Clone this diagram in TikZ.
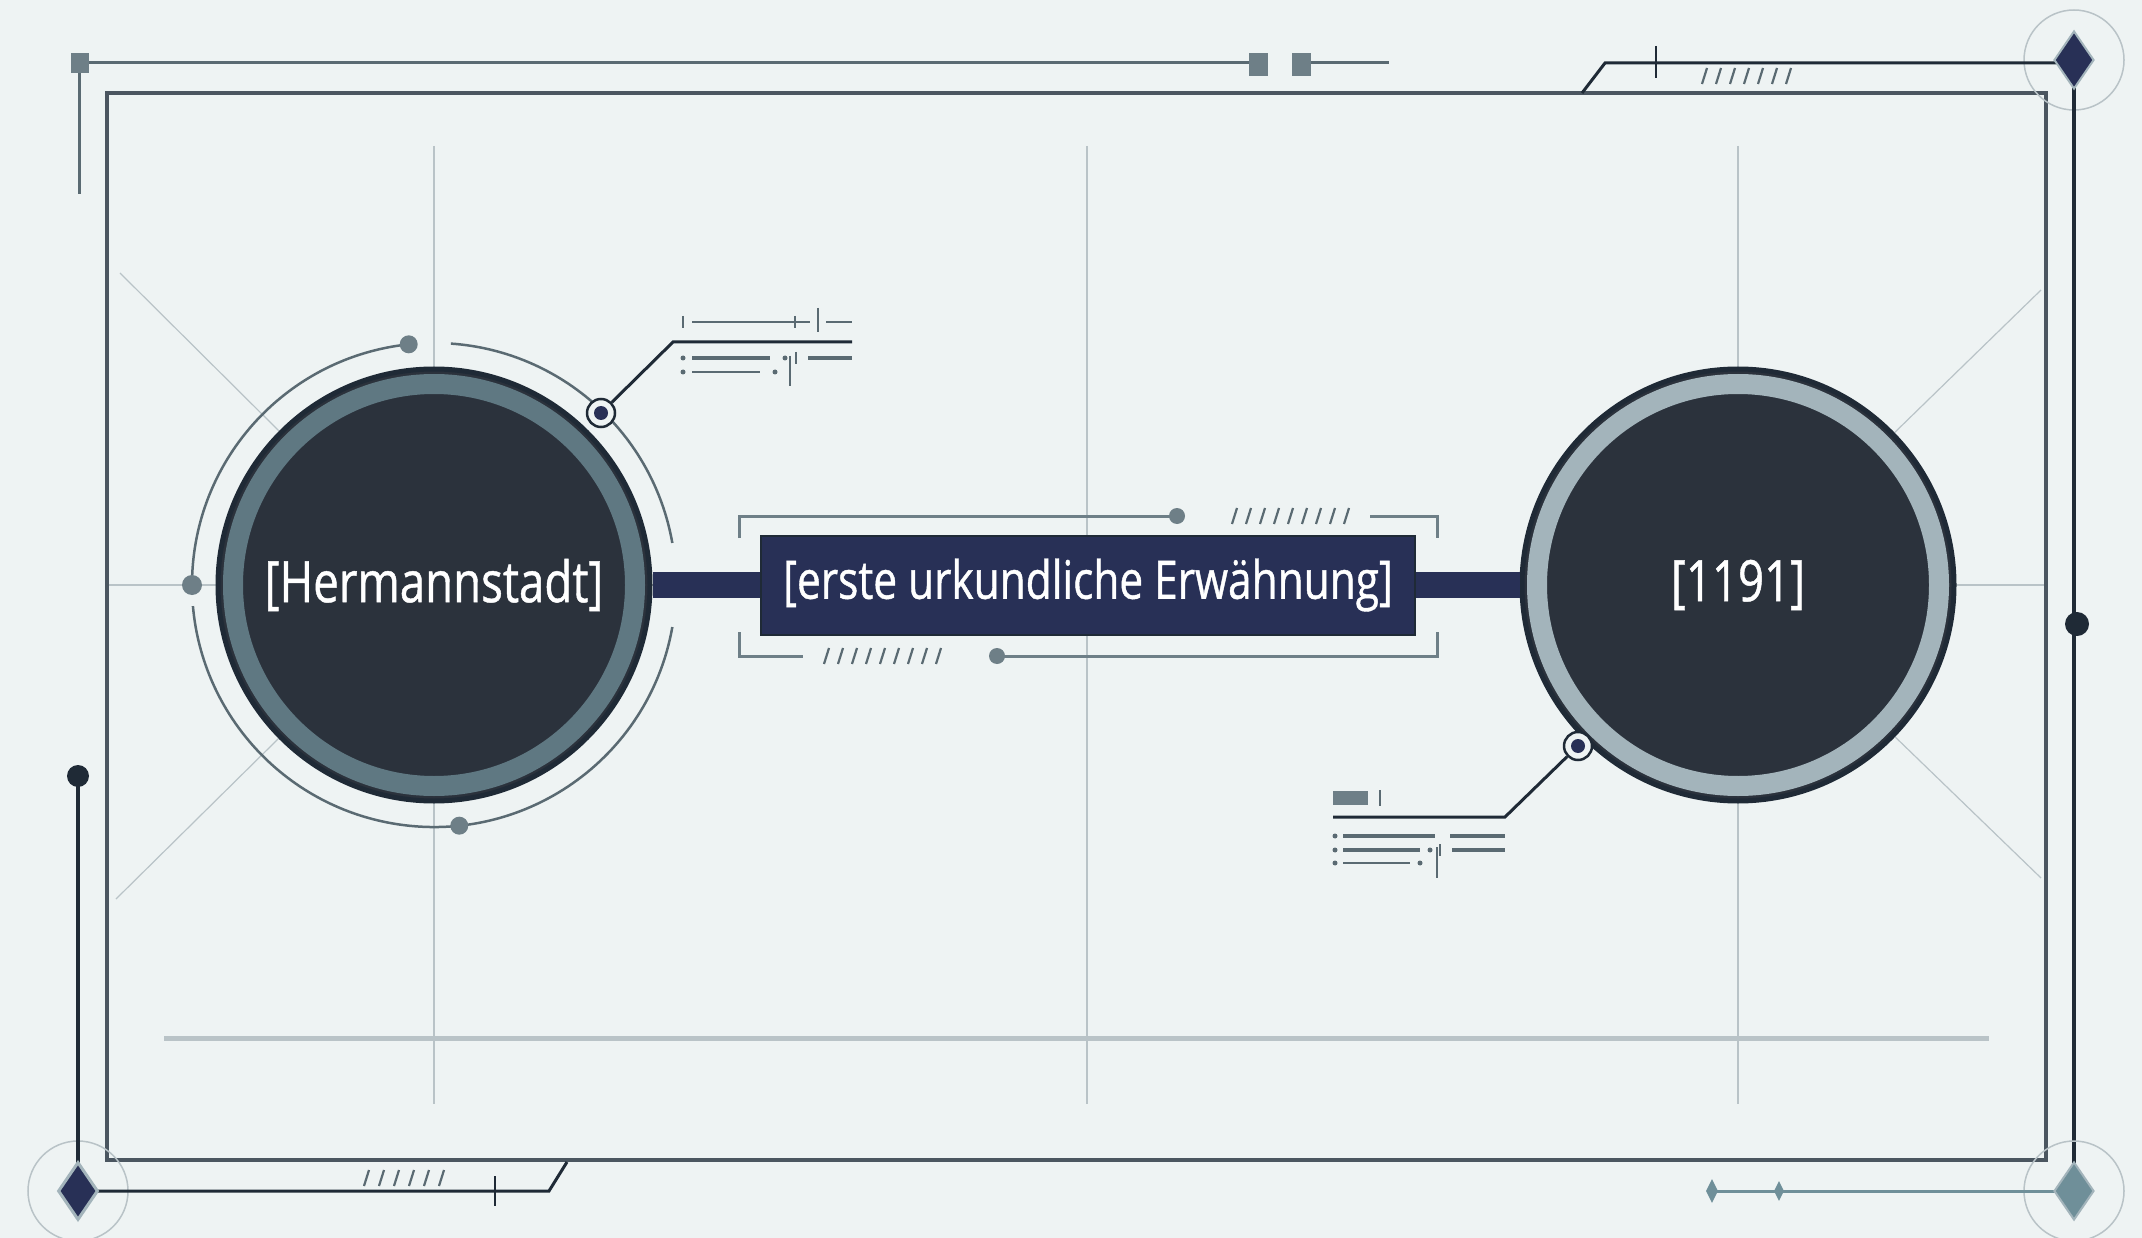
\documentclass[tikz,border=0pt]{standalone}
\usepackage{fontspec}
\setmainfont{Open Sans}[FakeStretch=0.80,FakeBold=0.8]
\usetikzlibrary{shapes.geometric}
\definecolor{bgc}{HTML}{EEF3F3}
\definecolor{framec}{HTML}{4B5660}
\definecolor{outc}{HTML}{5A6A72}
\definecolor{sqc}{HTML}{6E7F87}
\definecolor{navy}{HTML}{283056}
\definecolor{cfill}{HTML}{2B323C}
\definecolor{cedge}{HTML}{1F2A36}
\definecolor{ringL}{HTML}{5F7882}
\definecolor{ringR}{HTML}{A3B4BB}
\definecolor{gridc}{HTML}{B9C3C7}
\definecolor{tealc}{HTML}{6F8F99}
\tikzset{
  gridline/.style={draw=gridc, line width=1.5pt},
  framel/.style={draw=framec, line width=3.5pt},
  outl/.style={draw=outc, line width=3pt},
  bigcirc/.style={circle, minimum size=432pt, fill=cfill, draw=cedge, line width=5pt, text=white, font=\fontsize{57}{60}\selectfont, inner sep=0pt},
  boxnode/.style={rectangle, minimum width=654pt, minimum height=99pt, fill=navy, draw=cedge, line width=2pt, text=white, font=\fontsize{53}{56}\selectfont, inner sep=0pt},
  barline/.style={draw=navy, line width=26pt},
  bracket/.style={draw=sqc, line width=3pt},
  hatch/.style={draw=outc, line width=2.2pt},
  callline/.style={draw=cedge, line width=3pt},
  thinrow/.style={draw=outc, line width=2.5pt},
  ccirc/.style={circle, minimum size=28pt, fill=bgc, draw=cedge, line width=2.5pt, inner sep=0pt},
  dia/.style={diamond, minimum width=40pt, minimum height=58pt, inner sep=0pt},
  arcl/.style={draw=outc, line width=2.5pt},
}
\begin{document}
\begin{tikzpicture}[x=1pt,y=-1pt]
\useasboundingbox (0,0) rectangle (2142,1238);
\fill[bgc] (0,0) rectangle (2142,1238);
% grid
\draw[gridline] (434,146) -- (434,1104);
\draw[gridline] (1087,146) -- (1087,1104);
\draw[gridline] (1738,146) -- (1738,1104);
\draw[gridline] (107,585) -- (2046,585);
\draw[draw=gridc, line width=5pt] (164,1038) -- (1989,1038);
\coordinate (LC) at (434,585);
\coordinate (RC) at (1738,585);
\draw[gridline, line width=1.2pt] (LC) -- (120,273);
\draw[gridline, line width=1.2pt] (LC) -- (116,899);
\draw[gridline, line width=1.2pt] (RC) -- (2041,290);
\draw[gridline, line width=1.2pt] (RC) -- (2041,878);
% inner frame
\draw[framel] (107,93) rectangle (2046,1160);
% top outer line
\draw[outl] (79,63) -- (1257,63);
\draw[outl] (1300,63) -- (1389,63);
\draw[outl] (79,63) -- (79,194);
\fill[sqc] (71,53) rectangle (89,73);
\fill[sqc] (1249,53) rectangle (1268,76);
\fill[sqc] (1292,53) rectangle (1311,76);
% top right
\draw[draw=gridc, line width=1.5pt] (2074,60) circle (50pt);
\draw[draw=cedge, line width=3pt] (1582,93) -- (1605,63) -- (2074,63);
\draw[draw=cedge, line width=2.5pt] (1656,46) -- (1656,78);
\foreach \i in {0,...,6} {\pgfmathsetmacro\xx{1702+\i*14}\draw[hatch] (\xx,84) -- (\xx+5,68);}
\draw[draw=cedge, line width=3.5pt] (2074,60) -- (2074,1191);
\node[dia, fill=navy, draw=ringR, line width=2pt] (dTR) at (2074,60) {};
\fill[cedge] (2077,624) circle (12pt);
% bottom left
\draw[draw=gridc, line width=1.5pt] (78,1191) circle (50pt);
\draw[draw=cedge, line width=3.5pt] (78,776) -- (78,1191);
\fill[cedge] (78,776) circle (11pt);
\draw[draw=cedge, line width=3pt] (78,1191) -- (549,1191) -- (567,1162);
\draw[draw=cedge, line width=2.5pt] (495,1176) -- (495,1206);
\foreach \i in {0,...,5} {\pgfmathsetmacro\xx{364+\i*15}\draw[hatch] (\xx,1186) -- (\xx+5,1170);}
\node[dia, fill=navy, draw=ringR, line width=3pt] (dBL) at (78,1191) {};
% bottom right
\draw[draw=gridc, line width=1.5pt] (2074,1191) circle (50pt);
\draw[draw=tealc, line width=3pt] (1710,1191) -- (2074,1191);
\node[diamond, fill=tealc, minimum width=12pt, minimum height=24pt, inner sep=0pt] (m1) at (1712,1191) {};
\node[diamond, fill=tealc, minimum width=10pt, minimum height=20pt, inner sep=0pt] (m2) at (1779,1191) {};
\node[dia, fill=tealc, draw=ringR, line width=2pt] (dBR) at (2074,1191) {};
% center box bracket
\draw[bracket] (739,538) -- (739,516) -- (1177,516);
\fill[sqc] (1177,516) circle (8pt);
\foreach \i in {0,...,8} {\pgfmathsetmacro\xx{1232+\i*14}\draw[hatch] (\xx,524) -- (\xx+5,508);}
\draw[bracket] (1370,516) -- (1437,516) -- (1437,538);
\draw[bracket] (739,632) -- (739,656) -- (803,656);
\foreach \i in {0,...,8} {\pgfmathsetmacro\xx{824+\i*14}\draw[hatch] (\xx,664) -- (\xx+5,648);}
\draw[bracket] (997,656) -- (1437,656) -- (1437,632);
\fill[sqc] (997,656) circle (8pt);
% left circle outer arcs
\draw[arcl] ([shift={(86:242pt)}]LC) arc[start angle=86, end angle=10, radius=242pt];
\draw[arcl] ([shift={(-10:242pt)}]LC) arc[start angle=-10, end angle=-175, radius=242pt];
\draw[arcl] ([shift={(178:242pt)}]LC) arc[start angle=178, end angle=96, radius=242pt];
\fill[sqc] ([shift={(96:242pt)}]LC) circle (9pt);
\fill[sqc] ([shift={(180:242pt)}]LC) circle (10pt);
\fill[sqc] ([shift={(-84:242pt)}]LC) circle (9pt);
% main nodes
\node[bigcirc] (L) at (LC) {[Hermannstadt]};
\draw[draw=ringL, line width=20pt] (L.center) circle (201pt);
\node[bigcirc] (R) at (RC) {[1191]};
\draw[draw=ringR, line width=20pt] (R.center) circle (201pt);
\node[boxnode] (B) at (1088,585) {[erste urkundliche Erwähnung]};
\draw[barline] (L) -- (B);
\draw[barline] (B) -- (R);
% left callout
\node[ccirc] (cL) at (601,413) {};
\fill[navy] (cL.center) circle (7pt);
\coordinate (kL) at (673,342);
\coordinate (eL) at (852,342);
\draw[callline] (cL) -- (kL) -- (eL);
\draw[thinrow] (683,316) -- (683,328);
\draw[thinrow] (692,322) -- (810,322);
\draw[thinrow] (795,316) -- (795,328);
\draw[thinrow] (818,308) -- (818,332);
\draw[thinrow] (826,322) -- (852,322);
\fill[outc] (683,358) circle (2.5pt);
\draw[thinrow, line width=3.5pt] (692,358) -- (770,358);
\fill[outc] (785,358) circle (2.5pt);
\draw[thinrow] (796,352) -- (796,364);
\draw[thinrow, line width=3.5pt] (808,358) -- (852,358);
\fill[outc] (683,372) circle (2.5pt);
\draw[thinrow] (692,372) -- (760,372);
\fill[outc] (775,372) circle (2.5pt);
\draw[thinrow] (790,356) -- (790,386);
% right callout
\node[ccirc] (cR) at (1578,746) {};
\fill[navy] (cR.center) circle (7pt);
\coordinate (kR) at (1505,817);
\coordinate (eR) at (1333,817);
\draw[callline] (cR) -- (kR) -- (eR);
\fill[sqc] (1333,791) rectangle (1368,805);
\draw[thinrow] (1380,790) -- (1380,806);
\fill[outc] (1335,836) circle (2.5pt);
\draw[thinrow, line width=3.5pt] (1343,836) -- (1435,836);
\draw[thinrow, line width=3.5pt] (1450,836) -- (1505,836);
\fill[outc] (1335,850) circle (2.5pt);
\draw[thinrow, line width=3.5pt] (1343,850) -- (1420,850);
\fill[outc] (1430,850) circle (2.5pt);
\draw[thinrow] (1440,844) -- (1440,856);
\draw[thinrow, line width=3.5pt] (1452,850) -- (1505,850);
\fill[outc] (1335,863) circle (2.5pt);
\draw[thinrow] (1343,863) -- (1410,863);
\fill[outc] (1420,863) circle (2.5pt);
\draw[thinrow] (1437,847) -- (1437,878);
\end{tikzpicture}
\end{document}
